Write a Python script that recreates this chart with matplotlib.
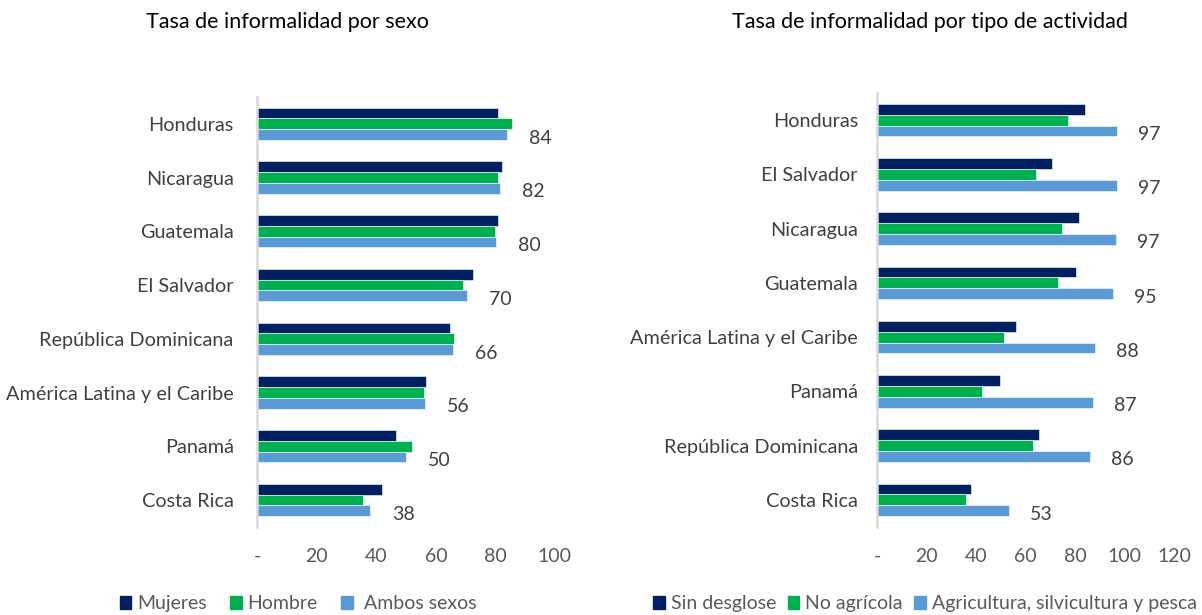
import matplotlib
matplotlib.use("Agg")
import matplotlib.pyplot as plt
from matplotlib.patches import Patch

plt.rcParams['font.family'] = ['Lato', 'DejaVu Sans']

# left panel: rate by sex
sexo_paises = ["Honduras", "Nicaragua", "Guatemala", "El Salvador",
               "República Dominicana", "América Latina y el Caribe",
               "Panamá", "Costa Rica"]
mujeres = [81.0, 82.1, 81.0, 72.3, 64.8, 56.6, 46.6, 41.9]
hombre = [85.6, 81.0, 79.7, 69.0, 66.0, 56.0, 51.9, 35.5]
ambos = [83.8, 81.7, 80.2, 70.4, 65.6, 56.4, 49.9, 37.9]
ambos_lbl = [84, 82, 80, 70, 66, 56, 50, 38]

# right panel: rate by activity type
act_paises = ["Honduras", "El Salvador", "Nicaragua", "Guatemala",
              "América Latina y el Caribe", "Panamá",
              "República Dominicana", "Costa Rica"]
sin_desglose = [83.8, 70.5, 81.6, 80.2, 56.2, 49.7, 65.5, 37.7]
no_agricola = [77.2, 64.1, 74.7, 72.9, 51.2, 42.4, 62.8, 35.7]
agricultura = [97.0, 97.0, 96.4, 95.2, 88.0, 87.3, 86.1, 53.2]
agri_lbl = [97, 97, 97, 95, 88, 87, 86, 53]

C_DARK = "#002060"
C_GREEN = "#00B050"
C_BLUE = "#5B9BD5"
TXT = "#404040"
TICK = "#595959"


def draw_panel(ax, cats, series, labels, xmax, lab_pad=22, ypad=17):
    ys = list(range(len(cats)))
    offs = [-0.2, 0.0, 0.2]
    colors = [C_DARK, C_GREEN, C_BLUE]
    for vals, off, col in zip(series, offs, colors):
        ax.barh([y + off for y in ys], vals, height=0.2, color=col,
                edgecolor="white", linewidth=0.4)
    for y, v, lab in zip(ys, series[2], labels):
        ax.annotate(str(lab), (v, y + 0.2), xytext=(lab_pad, -3.5),
                    textcoords="offset pixels",
                    ha="left", va="center", fontsize=14, color=TXT)
    ax.set_ylim(len(cats) - 0.5, -0.5)
    ax.set_xlim(0, xmax)
    ax.set_yticks(ys)
    ax.set_yticklabels(cats, fontsize=14.3, color=TXT)
    ticks = list(range(0, xmax + 1, 20))
    ax.set_xticks(ticks)
    ax.set_xticklabels(["-"] + [str(t) for t in ticks[1:]],
                       fontsize=14, color=TICK)
    ax.tick_params(length=0, axis="y", pad=ypad)
    ax.tick_params(length=0, axis="x", pad=15)
    for s in ["top", "right", "bottom"]:
        ax.spines[s].set_visible(False)
    ax.spines["left"].set_color("#D9D9D9")
    ax.spines["left"].set_linewidth(1.8)


fig = plt.figure(figsize=(12.02, 6.15), dpi=100)
ax1 = fig.add_axes([0.2141, 0.1431, 0.2476, 0.6992])
ax2 = fig.add_axes([0.7299, 0.1431, 0.2468, 0.7057])

draw_panel(ax1, sexo_paises, [mujeres, hombre, ambos], ambos_lbl, 100)
draw_panel(ax2, act_paises, [sin_desglose, no_agricola, agricultura],
           agri_lbl, 120, lab_pad=21, ypad=14)

fig.text(0.239, 0.965, "Tasa de informalidad por sexo", ha="center",
         va="center", fontsize=15.5, color="black")
fig.text(0.774, 0.965, "Tasa de informalidad por tipo de actividad",
         ha="center", va="center", fontsize=15.5, color="black")

h1 = [Patch(color=C_DARK), Patch(color=C_GREEN), Patch(color=C_BLUE)]
fig.legend(h1, ["Mujeres", "Hombre", " Ambos sexos"], loc="center",
           bbox_to_anchor=(0.248, 0.018), ncol=3, frameon=False,
           fontsize=14, labelcolor=TICK, handlelength=0.6,
           handleheight=0.6, handletextpad=0.3, columnspacing=1.2)
fig.legend(h1, ["Sin desglose", "No agrícola",
                "Agricultura, silvicultura y pesca"], loc="center",
           bbox_to_anchor=(0.7696, 0.018), ncol=3, frameon=False,
           fontsize=14, labelcolor=TICK, handlelength=0.6,
           handleheight=0.6, handletextpad=0.3, columnspacing=0.6)

fig.savefig("out.png", dpi=100)
